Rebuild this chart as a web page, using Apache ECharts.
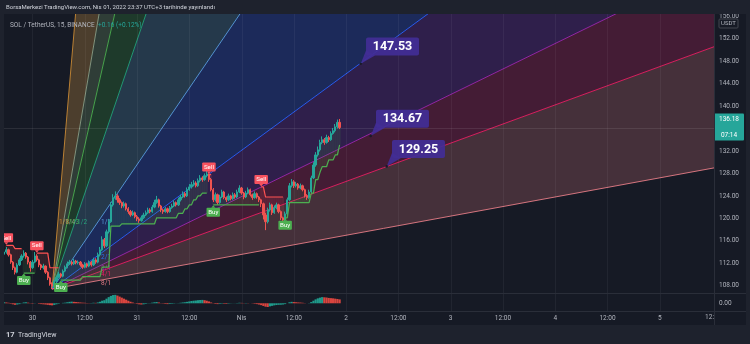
<!DOCTYPE html>
<html><head><meta charset="utf-8">
<script src="https://cdn.jsdelivr.net/npm/echarts@6/dist/echarts.min.js"></script>
<style>html,body{margin:0;padding:0;background:#1e222d}#c{width:750px;height:344px}</style>
</head><body><div id="c"></div>
<script>
// ---------- DATA ----------
const barStartTime = -6.5;   // hours from 30 Mar 00:00 (30-min bars)
const barStep = 0.5;
const firstOpen = 113.6;
const closes = [114.0,114.4,113.5,112.2,111.2,110.4,111.7,112.6,113.3,113.8,
113.1,112.2,111.2,112.2,113.3,112.6,111.7,111.2,111.5,110.4,
109.4,108.3,107.9,108.8,109.5,110.1,109.7,110.6,111.3,111.9,
112.2,111.9,112.4,112.1,112.2,111.7,111.3,111.9,111.5,112.2,
111.7,112.6,112.2,113.5,114.4,116.2,115.1,117.6,119.4,122.4,
123.7,124.0,123.3,122.8,122.2,122.6,121.7,121.2,120.6,121.0,
120.3,119.9,119.6,120.1,120.6,121.0,121.5,121.2,122.0,122.8,
123.3,122.2,121.5,121.2,121.7,121.2,121.9,122.2,122.8,122.4,
123.3,123.8,124.4,124.0,125.1,125.6,126.0,126.3,125.8,126.7,
127.2,126.9,127.6,127.9,126.9,125.1,123.3,124.2,122.8,123.8,
124.7,123.7,123.3,124.0,123.5,124.2,123.8,124.7,125.4,124.5,
123.8,124.5,125.1,124.2,123.7,124.4,123.8,123.3,122.6,120.6,
119.4,121.5,122.4,121.0,121.9,122.4,121.2,120.1,119.7,120.8,
123.3,125.8,126.5,125.8,126.1,125.4,125.8,125.1,124.0,123.7,
124.7,127.2,129.5,131.3,132.2,133.5,134.0,133.5,134.4,134.0,
135.1,135.6,136.3,137.1,136.18];
const highs = [114.6,114.9,114.6,113.7,112.4,111.4,112.0,112.9,113.6,114.3,
114.0,113.3,112.4,112.6,114.0,113.6,112.8,111.9,111.9,111.6,
110.6,109.6,108.6,109.1,109.8,110.5,110.3,110.9,111.6,112.3,
112.6,112.4,112.8,112.6,112.5,112.4,111.9,112.2,112.1,112.5,
112.4,113.0,112.9,113.9,114.9,116.8,116.5,118.0,119.9,122.9,
124.3,124.8,124.3,123.6,123.0,123.0,122.8,122.0,121.5,121.4,
121.2,120.6,120.2,120.5,121.0,121.4,121.9,121.8,122.4,123.3,
124.0,123.5,122.4,121.7,122.0,121.9,122.2,122.6,123.2,123.0,
123.7,124.2,124.8,124.7,125.5,126.1,126.5,126.8,126.6,127.1,
127.7,127.5,128.0,128.5,128.0,127.2,125.4,124.6,124.4,124.2,
125.1,124.9,123.9,124.4,124.2,124.6,124.5,125.1,125.9,125.6,
124.7,124.9,125.5,125.3,124.4,124.8,124.6,124.0,123.5,122.8,
121.0,121.9,122.8,122.6,122.3,122.8,122.6,121.4,120.3,121.2,
123.7,126.3,127.0,126.8,126.5,126.3,126.2,126.0,125.3,124.3,
125.1,127.6,130.0,131.8,132.8,134.0,134.6,134.3,134.9,134.7,
135.5,136.1,136.8,137.6,137.7];
const lows = [113.3,113.7,113.2,111.9,110.8,110.0,110.2,111.5,112.4,113.0,
112.8,111.8,110.5,111.0,112.0,112.3,111.3,110.8,110.9,110.1,
109.0,108.0,107.4,107.7,108.5,109.3,109.4,109.5,110.4,111.1,
111.7,111.6,111.7,111.8,111.8,111.4,111.0,111.1,111.2,111.3,
111.4,111.5,111.9,112.0,113.2,114.2,114.7,114.9,117.3,119.2,
122.1,123.3,122.8,122.4,121.8,121.9,121.4,120.8,120.3,120.4,
120.0,119.5,119.2,119.4,119.9,120.4,120.8,120.9,121.0,121.8,
122.6,121.9,121.1,120.8,121.0,120.9,121.0,121.7,122.0,122.1,
122.2,123.0,123.6,123.7,123.8,124.9,125.3,125.7,125.5,125.6,
126.4,126.5,126.7,127.3,126.5,124.8,122.9,123.0,122.4,122.6,
123.6,123.4,122.9,123.1,123.2,123.3,123.5,123.6,124.5,124.2,
123.4,123.6,124.3,123.9,123.3,123.5,123.5,122.9,122.0,119.8,
117.9,119.1,121.2,120.6,120.8,121.6,120.9,119.7,119.2,119.5,
120.6,123.1,125.5,125.4,125.5,125.1,125.2,124.8,123.7,123.3,
123.5,124.5,127.0,129.2,131.0,131.9,133.2,133.1,133.3,133.6,
133.8,134.9,135.3,136.0,135.9];
const histValues = [0.1,0.08,0.05,-0.05,-0.1,-0.15,-0.12,-0.08,0.02,0.08,
0.1,0.06,0.02,-0.04,-0.02,0.0,-0.05,-0.08,-0.1,-0.12,
-0.15,-0.18,-0.2,-0.16,-0.1,-0.05,0.0,0.04,0.06,0.1,
0.14,0.16,0.14,0.12,0.1,0.08,0.06,0.05,0.03,0.02,
0.03,0.05,0.04,0.08,0.15,0.25,0.3,0.45,0.6,0.72,
0.8,0.82,0.75,0.65,0.55,0.45,0.35,0.25,0.15,0.08,
0.02,-0.05,-0.1,-0.12,-0.1,-0.06,-0.02,0.02,0.06,0.1,
0.12,0.08,0.02,-0.03,-0.06,-0.08,-0.07,-0.05,-0.03,-0.01,
0.02,0.05,0.08,0.1,0.14,0.18,0.22,0.25,0.27,0.3,
0.32,0.33,0.3,0.25,0.18,0.08,-0.02,-0.06,-0.08,-0.06,
-0.04,-0.05,-0.06,-0.04,-0.02,-0.01,0.01,0.03,0.05,0.04,
0.02,0.03,0.02,0.0,-0.02,-0.05,-0.08,-0.12,-0.18,-0.26,
-0.33,-0.36,-0.3,-0.25,-0.2,-0.17,-0.15,-0.14,-0.12,-0.08,
0.0,0.1,0.14,0.12,0.1,0.08,0.07,0.05,0.02,0.0,
0.02,0.12,0.25,0.38,0.48,0.55,0.6,0.58,0.56,0.52,
0.5,0.48,0.45,0.42,0.38];
// Supertrend runs: [firstBar, lastBar, value]
const greenRuns = [[9,14,110.25],[26,35,109.0],[36,44,109.6],[45,48,111.3],[49,53,118.6],[54,69,119.0],[70,79,120.1],[80,82,120.9],[83,84,121.7],[85,86,122.4],[87,88,123.3],[89,90,124.0],[91,93,124.5],[96,117,122.4],[129,130,120.1],[131,140,122.8],[141,142,124.5],[143,144,126.9],[145,145,128.2],[146,148,129.2],[149,151,130.4],[152,153,131.3],[154,154,133.1]];
const redRuns = [[1,4,115.2],[5,8,114.6],[15,20,113.8],[21,25,111.2],[94,95,127.8],[118,119,125.6],[120,128,123.8]];
const signals = [[1,'Sell'],[9,'Buy'],[15,'Sell'],[26,'Buy'],[94,'Sell'],[96,'Buy'],[118,'Sell'],[129,'Buy']];
const timeTicks = [0,12,24,36,48,60,72,84,96,108,120,132,144];
const timeTickLabels = ['30','12:00','31','12:00','Nis','12:00','2','12:00','3','12:00','4','12:00','5'];
const priceTicks = [108,112,116,120,124,128,132,136,140,144,148,152,156];
const tMin = -6.54, tMax = 156.45;
const yMin = 106.70, yMax = 156.40;
const fanOrigin = [4.5, 107.4];
const fanEnd = [15.5, 119.9];
const fanLevels = ['1/8','1/4','1/3','1/2','1/1','2/1','3/1','4/1','8/1'];
const fanMult = [8,4,3,2,1,1/2,1/3,1/4,1/8];
const fanColors = ['#c98a35','#8c9f86','#4caf50','#22a37a','#5a9fe0','#2962ff','#9c27b0','#e91e63','#e57c86'];
const fanFills = ['#4c3e2d','#2f3d37','#1e3a2b','#25394b','#1c2a5a','#2f1f4b','#441c35','#45303a'];
const calloutValues = [147.53,134.67,129.25];
const calloutTimes = [75.35,77.64,81.31];
const lastPrice = 136.18, countdown = '07:14';

// ---------- HELPERS ----------
const barTime = i => barStartTime + barStep * i;
const opens = closes.map((c, i) => i === 0 ? firstOpen : closes[i - 1]);
function runValue(runs, i) { for (const r of runs) if (i >= r[0] && i <= r[1]) return r[2]; return null; }
function stLine(runs) { return closes.map((c, i) => [barTime(i), runValue(runs, i)]); }
const FONT = 'Roboto';

const chart = echarts.init(document.getElementById('c'), null, {width: 750, height: 344});

function renderFan(params, api) {
  const o = api.coord(fanOrigin);
  const s1 = (fanEnd[1] - fanOrigin[1]) / (fanEnd[0] - fanOrigin[0]);
  const T = 400;
  const far = fanMult.map(m => api.coord([fanOrigin[0] + T, fanOrigin[1] + s1 * m * T]));
  const ch = [];
  for (let k = 0; k < far.length - 1; k++) ch.push({type: 'polygon', shape: {points: [o, far[k], far[k + 1]]}, style: {fill: fanFills[k]}});
  for (let k = 0; k < far.length; k++) ch.push({type: 'line', shape: {x1: o[0], y1: o[1], x2: far[k][0], y2: far[k][1]}, style: {stroke: fanColors[k], lineWidth: 1, opacity: 0.9}});
  fanMult.forEach((m, k) => {
    const pt = m >= 1 ? [fanOrigin[0] + (fanEnd[0] - fanOrigin[0]) / m, fanEnd[1]] : [fanEnd[0], fanOrigin[1] + (fanEnd[1] - fanOrigin[1]) * m];
    const c = api.coord(pt);
    ch.push({type: 'text', x: c[0] + 1, y: c[1] + 3, style: {text: fanLevels[k], fill: fanColors[k], font: '6.5px ' + FONT, align: 'left', verticalAlign: 'middle'}});
  });
  return {type: 'group', children: ch};
}
function renderGridLines(params, api) {
  const cs = params.coordSys;
  const ch = timeTicks.map(t => { const x = Math.round(api.coord([t, yMin])[0]) + 0.5; return {type: 'line', shape: {x1: x, y1: cs.y, x2: x, y2: cs.y + cs.height}, style: {stroke: 'rgba(255,255,255,0.05)', lineWidth: 1}}; });
  if (params.seriesIndex === 1) {
    const y = Math.round(api.coord([0, lastPrice])[1]) + 0.5;
    ch.push({type: 'line', shape: {x1: cs.x, y1: y, x2: cs.x + cs.width, y2: y}, style: {stroke: 'rgba(255,255,255,0.09)', lineWidth: 1}});
  }
  return {type: 'group', children: ch};
}
function renderStFill(params, api) {
  const i = params.dataIndex;
  const g = runValue(greenRuns, i), r = runValue(redRuns, i);
  const s = g != null ? g : r;
  if (s == null) return {type: 'group', children: []};
  const mid = (opens[i] + closes[i]) / 2;
  const a = api.coord([barTime(i) - barStep / 2, mid]), b = api.coord([barTime(i) + barStep / 2, s]);
  return {type: 'rect', shape: {x: a[0], y: Math.min(a[1], b[1]), width: b[0] - a[0], height: Math.abs(b[1] - a[1])}, style: {fill: g != null ? 'rgba(76,175,80,0.13)' : 'rgba(255,82,82,0.13)'}};
}
function renderSignal(params, api) {
  const [i, kind] = signals[params.dataIndex];
  const val = runValue(kind === 'Sell' ? redRuns : greenRuns, i);
  const p = api.coord([barTime(i), val]);
  const sell = kind === 'Sell';
  const w = 13.5, h = 9, gap = 3;
  const y = sell ? p[1] - gap - h : p[1] + gap;
  const col = sell ? '#f7525f' : '#4caf50';
  const tri = sell ? [[p[0] - 2, p[1] - gap], [p[0] + 2, p[1] - gap], [p[0], p[1] - gap + 2.5]]
                   : [[p[0] - 2, p[1] + gap], [p[0] + 2, p[1] + gap], [p[0], p[1] + gap - 2.5]];
  return {type: 'group', children: [
    {type: 'rect', shape: {x: p[0] - w / 2, y: y, width: w, height: h, r: 1}, style: {fill: col}},
    {type: 'polygon', shape: {points: tri}, style: {fill: col}},
    {type: 'text', x: p[0], y: y + h / 2 + 0.3, style: {text: kind, fill: '#ffffff', font: '6.2px ' + FONT, align: 'center', verticalAlign: 'middle'}}
  ]};
}
function renderCallout(params, api) {
  const k = params.dataIndex;
  const c = api.coord([calloutTimes[k], calloutValues[k]]);
  const bx = c[0] + 5.3, by = c[1] - 26.3, w = 53, h = 18;
  const col = 'rgba(66,46,150,0.92)';
  return {type: 'group', children: [
    {type: 'polygon', shape: {points: [[c[0], c[1]], [bx, by + h - 5], [bx + 9, by + h]]}, style: {fill: col}},
    {type: 'rect', shape: {x: bx, y: by, width: w, height: h, r: 2}, style: {fill: col}},
    {type: 'text', x: bx + w / 2, y: by + h / 2 + 0.5, style: {text: calloutValues[k].toFixed(2), fill: '#ffffff', font: 'bold 12.5px ' + FONT, align: 'center', verticalAlign: 'middle'}},
    {type: 'circle', shape: {cx: c[0], cy: c[1], r: 1.3}, style: {fill: '#1a1a2a'}}
  ]};
}
function renderLastPrice(params, api) {
  const cs = params.coordSys;
  const c = api.coord([tMax, lastPrice]);
  const x = cs.x + cs.width;
  return {type: 'group', children: [
    {type: 'rect', shape: {x: x, y: c[1] - 14, width: 30, height: 27, r: 1}, style: {fill: '#26a69a'}},
    {type: 'text', x: x + 15, y: c[1] - 8.5, style: {text: lastPrice.toFixed(2), fill: '#ffffff', font: '6.5px ' + FONT, align: 'center', verticalAlign: 'middle'}},
    {type: 'text', x: x + 15, y: c[1] + 7.5, style: {text: countdown, fill: '#ffffff', font: '6.5px ' + FONT, align: 'center', verticalAlign: 'middle'}}
  ]};
}

const barData = closes.map((c, i) => [barTime(i), opens[i], c, lows[i], highs[i]]);
const axisLabelStyle = {color: '#b2b5be', fontSize: 6.5, fontFamily: FONT};

const option = {
  backgroundColor: '#161a25',
  animation: false,
  grid: [
    {left: 4, top: 14, width: 710, height: 279},
    {left: 4, top: 293, width: 710, height: 18}
  ],
  xAxis: [
    {type: 'value', gridIndex: 0, min: tMin, max: tMax, show: false},
    {type: 'value', gridIndex: 1, min: tMin, max: tMax, axisLine: {show: false}, axisTick: {show: false}, splitLine: {show: false},
     axisLabel: Object.assign({customValues: timeTicks, margin: 4, formatter: v => timeTickLabels[timeTicks.indexOf(v)] || ''}, axisLabelStyle)}
  ],
  yAxis: [
    {type: 'value', gridIndex: 0, position: 'right', min: yMin, max: yMax, axisLine: {show: false}, axisTick: {show: false}, splitLine: {show: false},
     axisLabel: Object.assign({customValues: priceTicks, margin: 5, formatter: v => v.toFixed(2)}, axisLabelStyle)},
    {type: 'value', gridIndex: 1, position: 'right', min: -0.75, max: 1.0, axisLine: {show: false}, axisTick: {show: false}, splitLine: {show: false},
     axisLabel: Object.assign({customValues: [0], margin: 5, formatter: v => v.toFixed(2)}, axisLabelStyle)}
  ],
  series: [
    {type: 'custom', xAxisIndex: 0, yAxisIndex: 0, z: 1, clip: true, silent: true, data: [fanOrigin], encode: {x: 0, y: 1}, renderItem: renderFan},
    {type: 'custom', xAxisIndex: 0, yAxisIndex: 0, z: 2, clip: true, silent: true, data: [fanOrigin], encode: {x: 0, y: 1}, renderItem: renderGridLines},
    {type: 'custom', xAxisIndex: 1, yAxisIndex: 1, z: 2, clip: true, silent: true, data: [[0, 0]], encode: {x: 0, y: 1}, renderItem: renderGridLines},
    {type: 'custom', xAxisIndex: 0, yAxisIndex: 0, z: 3, clip: true, silent: true, data: closes.map((c, i) => [barTime(i), c]), encode: {x: 0, y: 1}, renderItem: renderStFill},
    {type: 'candlestick', xAxisIndex: 0, yAxisIndex: 0, z: 4, barWidth: 1.8, data: barData, encode: {x: 0, y: [1, 2, 3, 4]},
     itemStyle: {color: '#26a69a', color0: '#ef5350', borderColor: '#26a69a', borderColor0: '#ef5350', borderWidth: 1}},
    {type: 'line', xAxisIndex: 0, yAxisIndex: 0, z: 5, data: stLine(greenRuns), showSymbol: false, connectNulls: false, lineStyle: {color: '#4caf50', width: 1.2}},
    {type: 'line', xAxisIndex: 0, yAxisIndex: 0, z: 5, data: stLine(redRuns), showSymbol: false, connectNulls: false, lineStyle: {color: '#ff5252', width: 1.2}},
    {type: 'custom', xAxisIndex: 0, yAxisIndex: 0, z: 6, clip: false, silent: true, data: signals.map(s => [barTime(s[0]), runValue(s[1] === 'Sell' ? redRuns : greenRuns, s[0])]), encode: {x: 0, y: 1}, renderItem: renderSignal},
    {type: 'custom', xAxisIndex: 0, yAxisIndex: 0, z: 7, clip: false, silent: true, data: calloutTimes.map((t, k) => [t, calloutValues[k]]), encode: {x: 0, y: 1}, renderItem: renderCallout},
    {type: 'custom', xAxisIndex: 0, yAxisIndex: 0, z: 7, clip: false, silent: true, data: [[tMax, lastPrice]], encode: {x: 0, y: 1}, renderItem: renderLastPrice},
    {type: 'bar', xAxisIndex: 1, yAxisIndex: 1, z: 4, barWidth: 2.2, data: histValues.map((v, i) => [barTime(i), v]),
     itemStyle: {color: p => (p.dataIndex > 0 && histValues[p.dataIndex] < histValues[p.dataIndex - 1]) ? '#d9453f' : '#1f9a8b'}}
  ],
  graphic: [
    {type: 'rect', z: 100, shape: {x: 0, y: 0, width: 750, height: 14}, style: {fill: '#1e222d'}},
    {type: 'rect', z: 100, shape: {x: 0, y: 325, width: 750, height: 19}, style: {fill: '#1e222d'}},
    {type: 'rect', z: 100, shape: {x: 0, y: 0, width: 4, height: 344}, style: {fill: '#1e222d'}},
    {type: 'rect', z: 100, shape: {x: 746, y: 0, width: 4, height: 344}, style: {fill: '#1e222d'}},
    {type: 'line', z: 100, shape: {x1: 714.5, y1: 14, x2: 714.5, y2: 325}, style: {stroke: '#2a2e39', lineWidth: 1}},
    {type: 'line', z: 100, shape: {x1: 4, y1: 293.5, x2: 746, y2: 293.5}, style: {stroke: '#2a2e39', lineWidth: 1}},
    {type: 'line', z: 100, shape: {x1: 4, y1: 311.5, x2: 746, y2: 311.5}, style: {stroke: '#2a2e39', lineWidth: 1}},
    {type: 'text', z: 101, x: 6, y: 7, style: {text: 'BorsaMerkezi TradingView.com, Nis 01, 2022 23:37 UTC+3 tarihinde yayınlandı', fill: '#d1d4dc', font: '6px ' + FONT, verticalAlign: 'middle'}},
    {type: 'text', z: 101, x: 10, y: 25, style: {text: 'SOL / TetherUS, 15, BINANCE', fill: '#b2b5be', font: '6.5px ' + FONT, verticalAlign: 'middle'}},
    {type: 'text', z: 101, x: 98, y: 25, style: {text: '+0.16 (+0.12%)', fill: '#26a69a', font: '6.5px ' + FONT, verticalAlign: 'middle'}},
    {type: 'rect', z: 101, shape: {x: 719, y: 19, width: 19, height: 9, r: 1}, style: {fill: '#161a25', stroke: '#434651', lineWidth: 1}},
    {type: 'text', z: 102, x: 728.5, y: 23.5, style: {text: 'USDT', fill: '#b2b5be', font: '6px ' + FONT, align: 'center', verticalAlign: 'middle'}},
    {type: 'text', z: 101, x: 714, y: 317.5, style: {text: '12:', fill: '#b2b5be', font: '6.5px ' + FONT, align: 'right', verticalAlign: 'middle'}},
    {type: 'text', z: 101, x: 6, y: 335, style: {text: '17', fill: '#d1d4dc', font: 'bold 7.5px ' + FONT, verticalAlign: 'middle'}},
    {type: 'text', z: 101, x: 18, y: 335, style: {text: 'TradingView', fill: '#d1d4dc', font: '7px ' + FONT, verticalAlign: 'middle'}}
  ]
};
chart.setOption(option);
</script></body></html>
